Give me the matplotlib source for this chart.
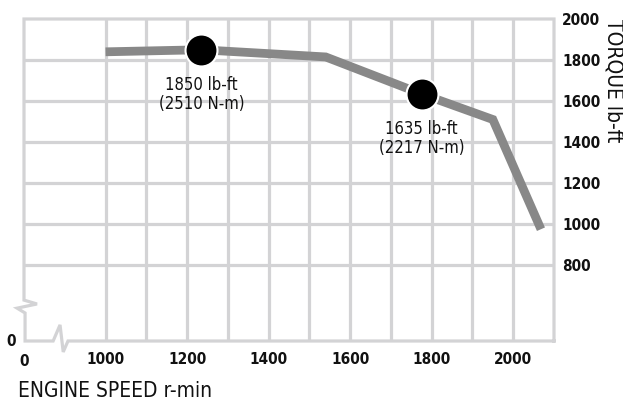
import matplotlib
matplotlib.use('Agg')
import matplotlib.pyplot as plt

# torque curve
rpm = [1000, 1235, 1540, 1775, 1950, 2068]
torque = [1840, 1850, 1815, 1635, 1510, 975]

peak_rpm = [1235, 1775]
peak_torque = [1850, 1635]
peak_labels = ['1850 lb-ft\n(2510 N-m)', '1635 lb-ft\n(2217 N-m)']

x_ticks = [1000, 1100, 1200, 1300, 1400, 1500, 1600, 1700, 1800, 1900, 2000]
x_labels = ['1000', '', '1200', '', '1400', '', '1600', '', '1800', '', '2000']
y_ticks = [800, 1000, 1200, 1400, 1600, 1800, 2000]

plt.rcParams['font.family'] = ['DejaVu Sans']
plt.rcParams['font.stretch'] = 'condensed'

grid_col = '#d3d3d5'
txt_col = '#111111'

fig = plt.figure(figsize=(6.23, 4.01), dpi=100)
ax = fig.add_axes([24/623, 1 - 341/401, 530/623, 322/401])
ax.set_xlim(800, 2100)
ax.set_ylim(430, 2000)

# grid
for x in x_ticks:
    ax.axvline(x, color=grid_col, lw=2.3, zorder=1)
for y in y_ticks[:-1]:
    ax.axhline(y, color=grid_col, lw=2.3, zorder=1)

for s in ax.spines.values():
    s.set_visible(False)

# frame with axis breaks (axes fraction)
tr = ax.transAxes
frame_x = [1, 1, 0, 0, 0.0245, -0.013, 0.002, 0.002, 0.055, 0.068, 0.074, 0.083, 1]
frame_y = [0, 1, 1, 0.127, 0.115, 0.102, 0.087, 0, 0, 0.05, -0.034, 0, 0]
ax.plot(frame_x, frame_y, color=grid_col, lw=2.3, transform=tr, clip_on=False,
        solid_joinstyle='miter', zorder=1)

# torque curve
ax.plot(rpm, torque, color='#888888', lw=6.3, solid_capstyle='butt',
        solid_joinstyle='miter', zorder=3)
ax.plot(peak_rpm, peak_torque, 'o', ms=23, mfc='black', mec='white', mew=1.5, zorder=4)
for xr, yt, lab in zip(peak_rpm, peak_torque, peak_labels):
    ax.annotate(lab, (xr, yt), xytext=(0, -19), textcoords='offset points',
                ha='center', va='top', fontsize=12, color=txt_col, linespacing=1.05)

# ticks
ax.tick_params(length=0)
ax.set_xticks(x_ticks)
ax.set_xticklabels(x_labels, fontsize=11, fontweight='bold', color=txt_col)
ax.yaxis.tick_right()
ax.set_yticks(y_ticks)
ax.set_yticklabels([str(v) for v in y_ticks], fontsize=11, fontweight='bold',
                   color=txt_col, ha='left')
ax.tick_params(axis='y', pad=6)
ax.tick_params(axis='x', pad=8)

# zero labels at the broken axes
ax.text(0, -0.04, '0', transform=tr, ha='center', va='top', fontsize=11,
        fontweight='bold', color=txt_col)
ax.text(-0.015, 0.0, '0', transform=tr, ha='right', va='center', fontsize=11,
        fontweight='bold', color=txt_col)

ax.text(-0.012, -0.125, 'ENGINE SPEED r-min', transform=tr, ha='left', va='top',
        fontsize=15, color=txt_col)
ax.text(1.113, 1.0, 'TORQUE lb-ft', transform=tr, ha='center', va='top',
        rotation=-90, fontsize=15, color=txt_col)

fig.savefig('out.png', dpi=100)
